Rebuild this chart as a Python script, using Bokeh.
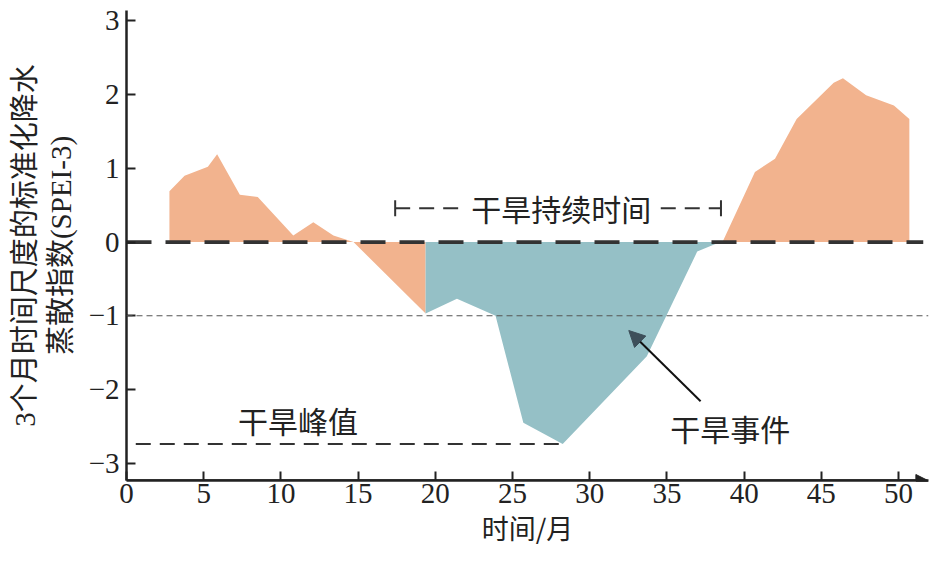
from bokeh.plotting import figure
from bokeh.models import Span, Label, Arrow, NormalHead, FixedTicker, Range1d
from bokeh.embed import file_html
from bokeh.resources import INLINE

# ---- data ----
months = [2.78, 3.76, 5.27, 5.87, 7.34, 8.5, 10.8, 12.1, 13.4, 14.7, 19.37,
          21.4, 23.9, 25.7, 28.25, 33.7, 36.96, 38.1, 38.6,
          40.7, 42.0, 43.4, 45.8, 46.4, 47.9, 49.7, 50.7]
spei = [0.69, 0.90, 1.02, 1.19, 0.64, 0.61, 0.09, 0.27, 0.09, 0.0, -0.97,
        -0.77, -1.0, -2.45, -2.74, -1.55, -0.13, -0.03, 0.0,
        0.95, 1.13, 1.67, 2.16, 2.22, 1.99, 1.85, 1.67]
event_start_idx = 10
event_end_idx = 18
x_ticks = [0, 5, 10, 15, 20, 25, 30, 35, 40, 45, 50]
y_ticks = [-3, -2, -1, 0, 1, 2, 3]
threshold = -1.0
peak_value = -2.74
duration_start = 17.4
duration_end = 38.5

ORANGE = "#F2B38E"
TEAL = "#95C0C6"
DARK = "#222222"
CJK = "Noto Sans CJK SC"
SERIF = "Liberation Serif"
MIXED = "Liberation Serif, Noto Sans CJK SC"

p = figure(width=929, height=549, output_backend="svg", toolbar_location=None,
           x_range=Range1d(0, 51.94), y_range=Range1d(-3.234, 3.14),
           min_border_left=126, min_border_right=1, min_border_top=10,
           min_border_bottom=66)
p.outline_line_color = None
p.grid.visible = False
p.background_fill_color = "white"

# areas
p.varea(x=months[:event_start_idx + 1], y1=0, y2=spei[:event_start_idx + 1],
        fill_color=ORANGE)
p.varea(x=months[event_start_idx:event_end_idx + 1], y1=0,
        y2=spei[event_start_idx:event_end_idx + 1], fill_color=TEAL)
p.varea(x=months[event_end_idx:], y1=0, y2=spei[event_end_idx:],
        fill_color=ORANGE)

# zero line (thick dashed)
p.line(x=[0, 51.6], y=[0, 0], line_color="#333333", line_width=3.8,
       line_dash="25 14")
# threshold line
p.add_layout(Span(location=threshold, dimension="width", line_color="#555555",
                  line_width=1.2, line_dash="6 4"))
# peak line
p.line(x=[0.6, months[spei.index(peak_value)]], y=[peak_value, peak_value],
       line_color="#333333", line_width=2, line_dash="15 9")

# duration annotation
dur_y = 0.458
p.line(x=[duration_start, 21.7], y=[dur_y, dur_y], line_color="#333333",
       line_width=2, line_dash="15 9")
p.line(x=[34.6, duration_end], y=[dur_y, dur_y], line_color="#333333",
       line_width=2, line_dash="15 9")
p.segment(x0=[duration_start, duration_end], y0=[dur_y - 0.11, dur_y - 0.11],
          x1=[duration_start, duration_end], y1=[dur_y + 0.11, dur_y + 0.11],
          line_color="#333333", line_width=2)

p.add_layout(Label(x=28.15, y=dur_y, text="干旱持续时间", text_font=CJK,
                   text_font_size="30px", text_color=DARK,
                   text_align="center", text_baseline="middle"))
p.add_layout(Label(x=11.1, y=-2.41, text="干旱峰值", text_font=CJK,
                   text_font_size="30px", text_color=DARK,
                   text_align="center", text_baseline="middle"))
p.add_layout(Label(x=39.1, y=-2.52, text="干旱事件", text_font=CJK,
                   text_font_size="30px", text_color=DARK,
                   text_align="center", text_baseline="middle"))

# arrow
p.add_layout(Arrow(x_start=37.18, y_start=-2.16, x_end=32.53, y_end=-1.20,
                   line_color="#111111", line_width=2,
                   end=NormalHead(size=16, fill_color="#3d4f5a",
                                  line_color="#3d4f5a")))

# x axis arrow head
p.add_layout(Arrow(x_start=0, y_start=-3.234, x_end=51.9, y_end=-3.234,
                   line_color=DARK, line_width=2.5,
                   end=NormalHead(size=12, fill_color=DARK, line_color=DARK)))

# axes
for ax in (p.xaxis[0], p.yaxis[0]):
    ax.axis_line_color = DARK
    ax.axis_line_width = 2.5
    ax.major_tick_line_color = DARK
    ax.major_tick_line_width = 2
    ax.major_tick_in = 9
    ax.major_tick_out = 0
    ax.minor_tick_line_color = None
    ax.major_label_text_font = SERIF
    ax.major_label_text_font_size = "29px"
    ax.major_label_text_color = DARK

p.xaxis.ticker = FixedTicker(ticks=x_ticks)
p.yaxis.ticker = FixedTicker(ticks=y_ticks)
p.yaxis.major_label_overrides = {t: (str(t).replace("-", "\u2212")) for t in y_ticks}
p.xaxis.major_label_standoff = 3
p.yaxis.major_label_standoff = 7

p.xaxis.axis_label = "时间/月"
p.xaxis.axis_label_text_font = CJK
p.xaxis.axis_label_text_font_size = "27px"
p.xaxis.axis_label_text_font_style = "normal"
p.xaxis.axis_label_text_color = DARK
p.xaxis.axis_label_standoff = 2

p.yaxis.axis_label = "3个月时间尺度的标准化降水\n蒸散指数(SPEI-3)"
p.yaxis.axis_label_text_font = MIXED
p.yaxis.axis_label_text_font_size = "29px"
p.yaxis.axis_label_text_font_style = "normal"
p.yaxis.axis_label_text_color = DARK
p.yaxis.axis_label_text_line_height = 1.1
p.yaxis.axis_label_standoff = 9

open("out.html", "w").write(file_html(p, INLINE))
